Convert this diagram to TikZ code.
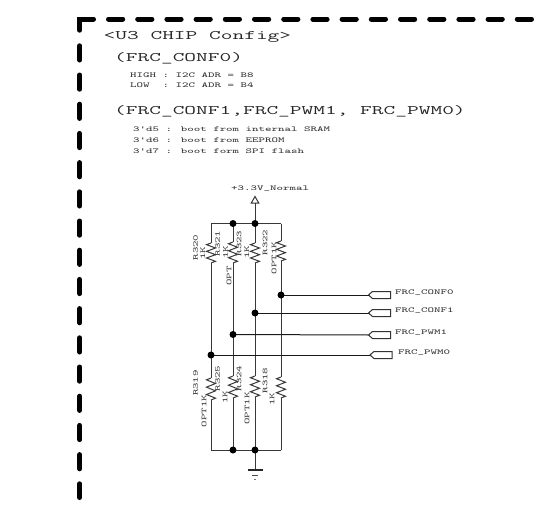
\documentclass[tikz,border=0pt]{standalone}
\usepackage{fontspec}
\usepackage{graphicx}
\tikzset{
  x=1pt,y=-1pt,
  wire/.style={line width=1pt,draw=black!78},
  sig/.style={line width=1pt,draw=black!90},
  frame/.style={line width=5pt,line cap=round,black,dash pattern=on 14.2pt off 15pt},
  dot/.style={circle,fill=black,inner sep=0pt,minimum size=7pt},
  lab/.style={inner sep=0pt,text=black!80,anchor=base west},
  big/.style={inner sep=0pt,text=black!85,anchor=base west},
  rlab/.style={inner sep=0pt,text=black!75,rotate=90}
}
\newcommand{\smalltxt}[1]{\scalebox{1.63}[1]{\ttfamily\fontsize{7.5}{8}\selectfont #1}}
\newcommand{\bigtxt}[1]{\scalebox{1.75}[1]{\ttfamily\fontsize{13}{14}\selectfont #1}}
\newcommand{\zig}[3]{% x, y top, y bottom
  \draw[wire] (#1,#2)
  \foreach \k/\o in {1/-4.5,3/4.5,5/-4.5,7/4.5,9/-4.5,11/4.5} { -- ({#1+\o},{#2+(#3-#2)*\k/12}) } -- (#1,#3);
}
\newcommand{\port}[3]{% name, tip x, y
  \coordinate (#1) at (#2,#3);
  \draw[line width=1pt,black!80,fill=white] (#1) -- ++(4,-3.5) -- ++(18,0) -- ++(0,7) -- ++(-18,0) -- cycle;
}
\begin{document}
\begin{tikzpicture}
\useasboundingbox (0,0) rectangle (542,509);
% frame
\coordinate (fc) at (79.7,19);
\coordinate (fv0) at (79.7,30.2);
\coordinate (fh0) at (93.5,19);
\coordinate (fv1) at (79.7,45.8);
\coordinate (fv2) at (79.7,497.5);
\coordinate (fh1) at (108.5,19);
\coordinate (fh2) at (532.8,19);
\draw[line width=5pt,line cap=round,line join=miter] (fv0) -- (fc) -- (fh0);
\draw[frame] (fv1) -- (fv2);
\draw[frame] (fh1) -- (fh2);
% texts
\node[big] (title) at (103.5,39) {\bigtxt{<U3 CHIP Config>}};
\node[big] (conf0) at (114,61) {\bigtxt{(FRC\_CONF0)}};
\node[lab] (high) at (130,77.5) {\smalltxt{HIGH : I2C ADR = B8}};
\node[lab] (low) at (130,87.5) {\smalltxt{LOW~~: I2C ADR = B4}};
\node[big] (conf1) at (114,114) {\bigtxt{(FRC\_CONF1,FRC\_PWM1, FRC\_PWM0)}};
\node[lab] (b5) at (133,131.5) {\smalltxt{3'd5 : boot from internal SRAM}};
\node[lab] (b6) at (133,142.5) {\smalltxt{3'd6 : boot from EEPROM}};
\node[lab] (b7) at (133,153.5) {\smalltxt{3'd7 : boot form SPI flash}};
\node[lab] (vcc) at (231,190.5) {\smalltxt{+3.3V\_Normal}};
% power symbol
\coordinate (pw) at (255,203);
\draw[line width=1pt,black!80] (pw) -- ++(-3.7,0) -- ++(3.7,-6.5) -- ++(3.7,6.5) -- cycle;
% rails
\coordinate (ta) at (211,223.5);
\coordinate (tb) at (233,223.5);
\coordinate (tc) at (255,223.5);
\coordinate (td) at (281,223.5);
\coordinate (ba) at (211,450);
\coordinate (bb) at (233,450);
\coordinate (bc) at (255,450);
\coordinate (bd) at (281,450);
\coordinate (g1) at (255,470);
\draw[wire] (ta) -- (td);
\draw[wire] (ba) -- (bd);
\draw[wire] (pw) -- (tc);
\draw[wire] (bc) -- (g1);
% resistor columns
\foreach \x/\ua/\ub/\la/\lb in {211/243/263/378/400,233/242/263/376/398,255/243/263/376/397,281/241/261/377/398}{
  \draw[wire] (\x,223.5) -- (\x,\ua);
  \zig{\x}{\ua}{\ub}
  \draw[wire] (\x,\ub) -- (\x,\la);
  \zig{\x}{\la}{\lb}
  \draw[wire] (\x,\lb) -- (\x,450);
}
% ports and signals
\coordinate (j0) at (281,295);
\coordinate (j1) at (255,313);
\coordinate (j2) at (233,334.5);
\coordinate (j3) at (211,355);
\port{p0}{368.5}{295}
\port{p1}{368.5}{313}
\port{p2}{368.5}{335}
\port{p3}{370}{355}
\draw[sig] (j0) -- (p0);
\draw[sig] (j1) -- (p1);
\draw[sig] (j2) -- (p2);
\draw[sig] (j3) -- (p3);
\node[lab] (n0) at (395,294.5) {\smalltxt{FRC\_CONF0}};
\node[lab] (n1) at (395,312.5) {\smalltxt{FRC\_CONF1}};
\node[lab] (n2) at (395,334.5) {\smalltxt{FRC\_PWM1}};
\node[lab] (n3) at (398,354.5) {\smalltxt{FRC\_PWM0}};
% dots
\foreach \n in {tb,tc,bb,bc,j0,j1,j2,j3}{ \node[dot] at (\n) {}; }
% ground
\draw[line width=1.5pt,black!85] (247.5,470) -- (262.5,470);
\draw[line width=1pt,black!70] (252,475) -- (258,475);
\draw[line width=1pt,black!55] (254,479) -- (256,479);
% resistor labels
\node[rlab] (r320) at (195.7,247.5) {\smalltxt{R320}};
\node[rlab] (v320) at (202.7,253) {\smalltxt{1K}};
\node[rlab] (r321) at (217.7,243.5) {\smalltxt{R321}};
\node[rlab] (o321) at (229,276) {\smalltxt{OPT}};
\node[rlab] (v321) at (225.5,252) {\smalltxt{1K}};
\node[rlab] (r323) at (239,243.5) {\smalltxt{R323}};
\node[rlab] (v323) at (246.7,252) {\smalltxt{1K}};
\node[rlab] (r322) at (265,242.5) {\smalltxt{R322}};
\node[rlab] (v322) at (274,258) {\smalltxt{OPT1K}};
\node[rlab] (r319) at (195.7,383) {\smalltxt{R319}};
\node[rlab] (v319) at (204,411) {\smalltxt{OPT1K}};
\node[rlab] (r325) at (217.7,378.5) {\smalltxt{R325}};
\node[rlab] (v325) at (225,397.5) {\smalltxt{1K}};
\node[rlab] (r324) at (239,378.5) {\smalltxt{R324}};
\node[rlab] (v324) at (247,408.5) {\smalltxt{OPT1K}};
\node[rlab] (r318) at (265,380.5) {\smalltxt{R318}};
\node[rlab] (v318) at (272,399) {\smalltxt{1K}};
\end{tikzpicture}
\end{document}
